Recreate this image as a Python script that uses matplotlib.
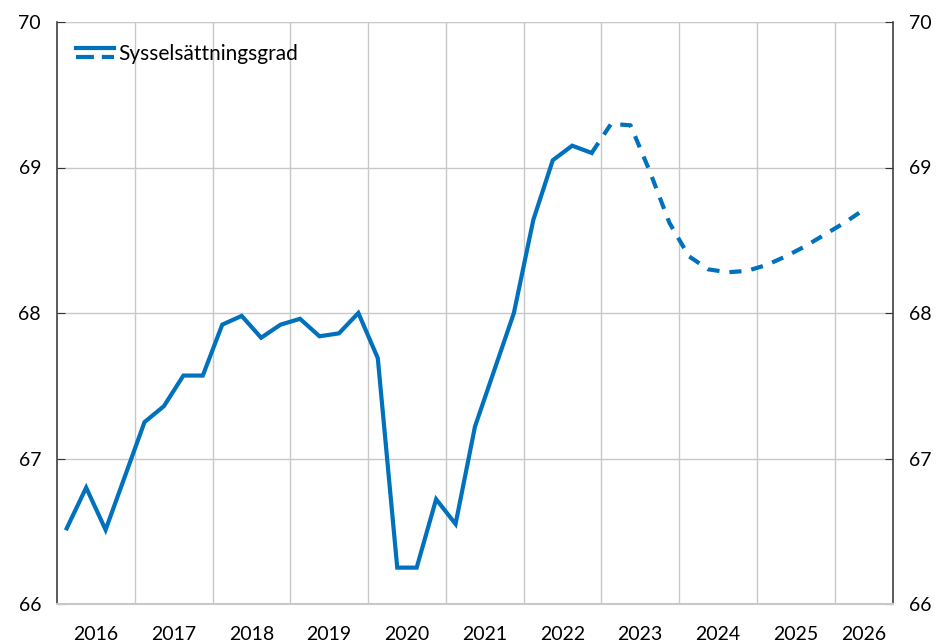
import numpy as np
import matplotlib
matplotlib.use("Agg")
import matplotlib.pyplot as plt
from matplotlib.lines import Line2D
from matplotlib.legend_handler import HandlerBase

plt.rcParams['font.family'] = ['Lato', 'DejaVu Sans']

# Quarterly data, 2016Q1 - 2022Q4 (outcome) and 2022Q4 - 2026Q2 (forecast)
years = ['2016', '2017', '2018', '2019', '2020', '2021', '2022', '2023', '2024', '2025', '2026']
outcome = [66.52, 66.80, 66.51, 66.88, 67.25, 67.36, 67.57, 67.57,
           67.92, 67.98, 67.83, 67.92, 67.96, 67.84, 67.86, 68.00,
           67.69, 66.25, 66.25, 66.72, 66.55, 67.22, 67.61, 68.00,
           68.64, 69.05, 69.15, 69.10]
forecast = [69.10, 69.30, 69.29, 68.97, 68.62, 68.39, 68.30, 68.28,
            68.29, 68.33, 68.39, 68.46, 68.54, 68.62, 68.71]
label = 'Sysselsättningsgrad'

blue = '#0071BC'
grid_c = '#c8c8c8'

x_out = np.arange(len(outcome)) + 0.5
x_fc = np.arange(len(forecast)) + len(outcome) - 1 + 0.5
n_quarters = 4 * (len(years) - 1) + 3

fig = plt.figure(figsize=(9.36, 6.42), dpi=100)
ax = fig.add_axes([57 / 936, 1 - 604 / 642, (893 - 57) / 936, (604 - 22) / 642])

ax.plot(x_out, outcome, color=blue, lw=3, solid_joinstyle='miter', zorder=3)
ax.plot(x_fc, forecast, color=blue, lw=3, dashes=(2.9, 2.4), dash_capstyle='butt', zorder=3)

ax.set_xlim(0, n_quarters)
ax.set_ylim(66, 70)
ax.set_yticks([66, 67, 68, 69, 70])

# year gridlines and labels
ax.set_xticks(np.arange(4, n_quarters, 4))
ax.set_xticklabels([])
ax.set_xticks([min(4 * i + 2, (4 * i + n_quarters) / 2) for i in range(len(years))], minor=True)
ax.set_xticklabels(years, minor=True)
ax.tick_params(axis='x', which='both', length=0, labelsize=14, pad=16)
ax.grid(True, axis='both', which='major', color=grid_c, lw=1)
ax.set_axisbelow(True)

ax.tick_params(axis='y', direction='in', length=6, labelsize=14, pad=11.5,
               left=True, right=True, labelleft=True, labelright=True, color='#333333')
for s in ['left', 'right']:
    ax.spines[s].set_color('#404040')
    ax.spines[s].set_linewidth(1.2)
ax.spines['top'].set_visible(False)
ax.spines['bottom'].set_color(grid_c)
ax.spines['bottom'].set_linewidth(1.5)
ax.axhline(70, color=grid_c, lw=1.5, zorder=0)


class TwoLineHandler(HandlerBase):
    def create_artists(self, legend, orig_handle, x0, y0, width, height, fontsize, trans):
        top = Line2D([x0, x0 + width], [y0 + height * 0.8] * 2, color=blue, lw=3, transform=trans)
        bot = Line2D([x0, x0 + width], [y0 + height * 0.2] * 2, color=blue, lw=3,
                     dashes=(4.3, 1.9), dash_capstyle='butt', transform=trans)
        return [top, bot]


ax.legend([object()], [label], handler_map={object: TwoLineHandler()},
          loc='upper left', bbox_to_anchor=(0.0, 0.995), frameon=False,
          fontsize=15, handlelength=1.85, handletextpad=0.2)

fig.savefig('out.png', dpi=100)
